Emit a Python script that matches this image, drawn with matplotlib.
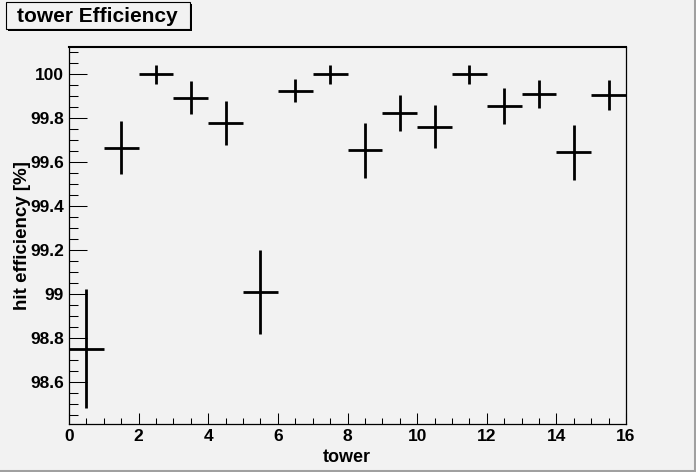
import matplotlib
matplotlib.use("Agg")
import matplotlib.pyplot as plt
from matplotlib.patches import Rectangle
from matplotlib.lines import Line2D
from matplotlib.ticker import MultipleLocator

# data
tower = [0.5, 1.5, 2.5, 3.5, 4.5, 5.5, 6.5, 7.5,
         8.5, 9.5, 10.5, 11.5, 12.5, 13.5, 14.5, 15.5]
eff = [98.753, 99.667, 100.0, 99.894, 99.777, 99.012, 99.926, 100.0,
       99.655, 99.823, 99.762, 100.0, 99.855, 99.909, 99.645, 99.905]
eff_err = [0.271, 0.119, 0.043, 0.076, 0.100, 0.190, 0.052, 0.042,
           0.124, 0.081, 0.099, 0.042, 0.083, 0.063, 0.126, 0.067]
bin_half = [0.5] * len(tower)

bg = "#f2f2f2"
plt.rcParams['font.family'] = ['Liberation Sans', 'DejaVu Sans']
plt.rcParams['font.weight'] = 'bold'

fig = plt.figure(figsize=(6.96, 4.72), dpi=100, facecolor=bg)
ax = fig.add_axes([69/696, 1-424/472, 557/696, 377/472], facecolor=bg)

ax.errorbar(tower, eff, yerr=eff_err, xerr=bin_half, fmt='none',
            ecolor='black', elinewidth=2.0, capsize=0)

ax.set_xlim(0, 16)
ax.set_ylim(98.411, 100.124)

ax.xaxis.set_major_locator(MultipleLocator(2))
ax.xaxis.set_minor_locator(MultipleLocator(0.5))
ax.yaxis.set_major_locator(MultipleLocator(0.2))
ax.yaxis.set_minor_locator(MultipleLocator(0.05))
ax.yaxis.set_major_formatter(plt.FuncFormatter(lambda v, p: f"{v:g}" if abs(v - round(v)) > 1e-6 else f"{round(v)}"))

ax.tick_params(axis='both', which='both', direction='in', top=False, right=False,
               width=0.75, labelsize=12.5, pad=3.6)
ax.tick_params(axis='x', which='major', length=8)
ax.tick_params(axis='x', which='minor', length=4.3)
ax.tick_params(axis='y', which='major', length=13)
ax.tick_params(axis='y', which='minor', length=6.5)
for lab in ax.get_xticklabels() + ax.get_yticklabels():
    lab.set_fontweight('bold')

for s in ['left', 'right', 'bottom']:
    ax.spines[s].set_linewidth(0.9)
ax.spines['top'].set_linewidth(1.5)

fig.text(347/696, 1-457/472, "tower", ha='center', va='center',
         fontsize=13, fontweight='bold')
fig.text(23/696, 1-236/472, "hit efficiency [%]", ha='center', va='center',
         rotation=90, fontsize=13.5, fontweight='bold')

# title box with shadow
fig.patches.append(Rectangle((8/696, 1-31/472), 184/696, 27/472,
                             transform=fig.transFigure, facecolor='black',
                             edgecolor='none', zorder=1))
fig.patches.append(Rectangle((6/696, 1-29/472), 184/696, 27/472,
                             transform=fig.transFigure, facecolor=bg,
                             edgecolor='black', linewidth=0.8, zorder=2))
fig.text(97/696, 1-16/472, "tower Efficiency", ha='center', va='center',
         fontsize=15, fontweight='bold', zorder=3)

# canvas bevel on right and bottom
fig.lines.append(Line2D([0, 1], [1.5/472, 1.5/472], transform=fig.transFigure,
                        color='#a0a0a0', linewidth=2.2))
fig.lines.append(Line2D([1-1.5/696, 1-1.5/696], [0, 1], transform=fig.transFigure,
                        color='#a0a0a0', linewidth=2.2))

fig.savefig("out.png", dpi=100, facecolor=bg)
